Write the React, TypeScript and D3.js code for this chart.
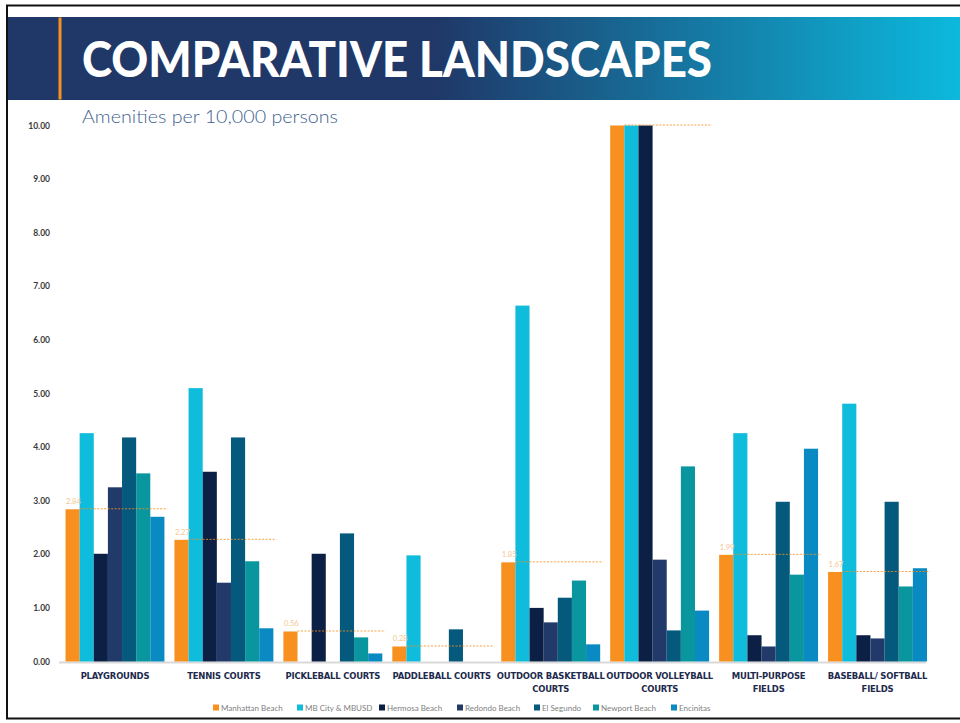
import React from 'react';
import * as d3 from 'd3';

const categories = [
  'PLAYGROUNDS',
  'TENNIS COURTS',
  'PICKLEBALL COURTS',
  'PADDLEBALL COURTS',
  'OUTDOOR BASKETBALL COURTS',
  'OUTDOOR VOLLEYBALL COURTS',
  'MULTI-PURPOSE FIELDS',
  'BASEBALL/ SOFTBALL FIELDS',
];
const categoryLines = [
  ['PLAYGROUNDS'],
  ['TENNIS COURTS'],
  ['PICKLEBALL COURTS'],
  ['PADDLEBALL COURTS'],
  ['OUTDOOR BASKETBALL', 'COURTS'],
  ['OUTDOOR VOLLEYBALL', 'COURTS'],
  ['MULTI-PURPOSE', 'FIELDS'],
  ['BASEBALL/ SOFTBALL', 'FIELDS'],
];

const seriesNames = [
  'Manhattan Beach',
  'MB City & MBUSD',
  'Hermosa Beach',
  'Redondo Beach',
  'El Segundo',
  'Newport Beach',
  'Encinitas',
];
const seriesColors = ['#f7901e', '#0fbcdc', '#0c1f45', '#213a6a', '#04597c', '#0a969e', '#0a8ac2'];

const manhattan = [2.84, 2.27, 0.56, 0.28, 1.85, 10, 1.99, 1.67];
const mbCity = [4.26, 5.1, 0, 1.98, 6.64, 10, 4.26, 4.81];
const hermosa = [2.01, 3.54, 2.01, 0, 1.0, 10, 0.49, 0.49];
const redondo = [3.25, 1.47, 0, 0, 0.73, 1.9, 0.28, 0.43];
const elSegundo = [4.18, 4.18, 2.39, 0.6, 1.19, 0.58, 2.98, 2.98];
const newport = [3.51, 1.87, 0.45, 0, 1.51, 3.64, 1.62, 1.4];
const encinitas = [2.7, 0.62, 0.15, 0, 0.32, 0.95, 3.97, 1.74];

const allSeries = [manhattan, mbCity, hermosa, redondo, elSegundo, newport, encinitas];

// labels shown next to the Manhattan Beach reference line
const refLabels = ['2.84', '2.27', '0.56', '0.28', '1.85', '', '1.99', '1.67'];
const yTicks = [0, 1, 2, 3, 4, 5, 6, 7, 8, 9, 10];

const W = 960;
const H = 723;

export default function App() {
  const x = d3.scaleBand<string>()
    .domain(categories)
    .range([60.5, 932])
    .paddingInner(0.092)
    .paddingOuter(0.046);

  const xi = d3.scaleBand<string>()
    .domain(seriesNames)
    .range([0, x.bandwidth()])
    .padding(0);

  const y = d3.scaleLinear().domain([0, 10]).range([661.5, 125.5]).clamp(true);

  const fmt = d3.format('.2f');

  return (
    <svg width={W} height={H} style={{ position: 'absolute', left: 0, top: 0, background: '#fff' }}>
      <defs>
        <linearGradient id="hdr" x1="0" x2="1" y1="0" y2="0">
          <stop offset="0" stopColor="#1f3868" />
          <stop offset="0.45" stopColor="#1f3868" />
          <stop offset="1" stopColor="#0cb9dd" />
        </linearGradient>
      </defs>

      {/* frame */}
      <rect x={0} y={0} width={W} height={H} fill="#fff" />
      <line x1={6} x2={W} y1={5.5} y2={5.5} stroke="#111" strokeWidth={2} />
      <line x1={7} x2={7} y1={5} y2={719} stroke="#111" strokeWidth={2} />
      <line x1={6} x2={W} y1={718.5} y2={718.5} stroke="#111" strokeWidth={2} />

      {/* header */}
      <rect x={8} y={17} width={W - 8} height={83} fill="url(#hdr)" />
      <rect x={58.5} y={17.5} width={3} height={82} fill="#f7901e" />
      <text
        x={82}
        y={77}
        fill="#fff"
        fontFamily="Lato, 'DejaVu Sans', sans-serif"
        fontWeight={900}
        fontSize={50}
        textLength={630}
        lengthAdjust="spacingAndGlyphs"
      >
        COMPARATIVE LANDSCAPES
      </text>

      <text
        x={82}
        y={123}
        fill="#3f5f8f"
        fontFamily="Lato, sans-serif"
        fontWeight={300}
        fontSize={17.5}
        textLength={256}
        lengthAdjust="spacingAndGlyphs"
      >
        Amenities per 10,000 persons
      </text>

      {/* y axis labels */}
      {yTicks.map(t => (
        <text
          key={t}
          x={50}
          y={y(t) + 3}
          textAnchor="end"
          fontFamily="Lato, sans-serif"
          fontWeight={700}
          fontSize={8.5}
          fill="#3a3a3a"
        >
          {fmt(t)}
        </text>
      ))}

      {/* baseline */}
      <line x1={59} x2={926} y1={662.5} y2={662.5} stroke="#d9d9d9" strokeWidth={2} />

      {/* bars */}
      {categories.map((c, ci) => (
        <g key={c} transform={`translate(${x(c)},0)`}>
          {allSeries.map((vals, si) => {
            const v = vals[ci];
            if (!v) return null;
            return (
              <rect
                key={si}
                x={xi(seriesNames[si])}
                y={y(v)}
                width={xi.bandwidth()}
                height={y(0) - y(v)}
                fill={seriesColors[si]}
              />
            );
          })}
        </g>
      ))}

      {/* Manhattan Beach reference lines */}
      {categories.map((c, ci) => {
        const x0 = (x(c) as number) + (xi(seriesNames[0]) as number);
        const yy = y(manhattan[ci]);
        return (
          <g key={c}>
            <line
              x1={x0 + xi.bandwidth()}
              x2={(x(c) as number) + x.bandwidth() + 3}
              y1={yy - 0.5}
              y2={yy - 0.5}
              stroke="#f7901e"
              strokeOpacity={0.85}
              strokeWidth={1}
              strokeDasharray="2,1.5"
            />
            {refLabels[ci] && (
              <text x={x0 + 0.5} y={yy - 5} fontFamily="Lato, sans-serif" fontSize={7.5} fill="#f3c690">
                {refLabels[ci]}
              </text>
            )}
          </g>
        );
      })}

      {/* category labels */}
      {categories.map((c, ci) => (
        <text
          key={c}
          x={(x(c) as number) + x.bandwidth() / 2}
          y={679}
          textAnchor="middle"
          fontFamily="'DejaVu Sans Condensed', 'Liberation Sans Narrow', sans-serif"
          fontWeight={700}
          fontSize={9.4}
          letterSpacing={-0.2}
          fill="#1d2a4d"
        >
          {categoryLines[ci].map((ln, li) => (
            <tspan key={li} x={(x(c) as number) + x.bandwidth() / 2} dy={li === 0 ? 0 : 13}>
              {ln}
            </tspan>
          ))}
        </text>
      ))}

      {/* legend */}
      {seriesNames.map((n, si) => {
        const lx = [213, 297, 379, 457, 534, 593, 671][si];
        return (
          <g key={n} transform={`translate(${lx},704.5)`}>
            <rect x={0} y={0} width={6} height={6} fill={seriesColors[si]} />
            <text x={8} y={6.5} fontFamily="Lato, sans-serif" fontSize={8} fill="#7f7f7f">
              {n}
            </text>
          </g>
        );
      })}
    </svg>
  );
}
